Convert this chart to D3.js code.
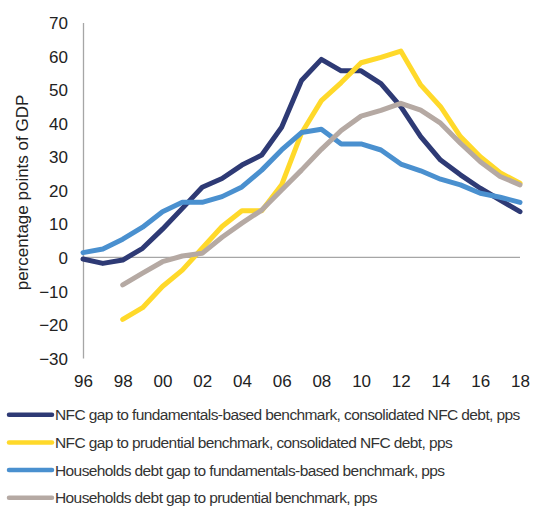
<!DOCTYPE html>
<html><head><meta charset="utf-8">
<script src="https://cdn.jsdelivr.net/npm/d3@7"></script>
<style>body{margin:0;background:#fff}svg{display:block}</style>
</head><body><svg id="c" width="544" height="509"></svg>
<script>
const years = d3.range(1996, 2019);
const xTickLabels = ["96","98","00","02","04","06","08","10","12","14","16","18"];
const yTicks = [-30,-20,-10,0,10,20,30,40,50,60,70];
const seriesNames = [
  "NFC gap to fundamentals-based benchmark, consolidated NFC debt, pps",
  "NFC gap to prudential benchmark, consolidated NFC debt, pps",
  "Households debt gap to fundamentals-based benchmark, pps",
  "Households debt gap to prudential benchmark, pps"
];
const seriesColors = ["#2E3A75","#FFD92A","#4A90CF","#B5A9A3"];
const nfcFund = [-0.5,-1.8,-0.8,2.7,8.4,14.6,20.9,23.5,27.5,30.5,38.8,52.7,59.0,55.6,55.6,51.8,44.9,36.0,29.0,24.6,20.6,17.1,13.6];
const nfcPrud = [null,null,-18.5,-15.0,-8.7,-3.8,2.7,9.2,13.9,13.9,21.6,37.0,46.7,52.1,58.0,59.6,61.5,51.4,44.9,36.0,30.0,25.2,22.1];
const hhFund = [1.4,2.5,5.4,9.0,13.6,16.4,16.4,18.1,21.0,26.0,32.0,37.2,38.2,33.8,33.8,32.0,27.8,25.8,23.3,21.6,19.1,17.9,16.4];
const hhPrud = [null,null,-8.2,-4.7,-1.3,0.4,1.2,6.0,10.2,14.1,20.1,26.0,32.2,37.8,42.1,43.8,45.9,43.9,40.0,34.0,28.5,24.1,21.6];
const allSeries = [nfcFund, nfcPrud, hhFund, hhPrud];

const svg = d3.select("#c");
const x = d3.scaleLinear().domain([1996, 2018]).range([83, 520]);
const y = d3.scaleLinear().domain([-30, 70]).range([358, 22.5]);
const font = "'Liberation Sans', Arial, sans-serif";

// zero line
svg.append("line").attr("x1", x(1996)).attr("x2", x(2018)).attr("y1", y(0)).attr("y2", y(0))
  .attr("stroke", "#a6a6a6").attr("stroke-width", 1.3);

// y axis
const yAxis = d3.axisLeft(y).tickValues(yTicks).tickSize(0).tickPadding(15).tickFormat(d3.format("d"));
const gy = svg.append("g").attr("transform", `translate(${x(1996)},0)`).call(yAxis);
gy.select(".domain").attr("stroke", "#a6a6a6").attr("stroke-width", 1.3);
gy.selectAll("text").attr("font-family", font).attr("font-size", 17).attr("fill", "#222")
  .attr("dy", "0.36em");

// x axis labels
const xTickYears = xTickLabels.map((l, i) => 1996 + 2 * i);
const xAxis = d3.axisBottom(x).tickValues(xTickYears).tickSize(0).tickPadding(0)
  .tickFormat((d, i) => xTickLabels[i]);
const gx = svg.append("g").attr("transform", `translate(0,${375})`).call(xAxis);
gx.select(".domain").remove();
gx.selectAll("text").attr("font-family", font).attr("font-size", 17).attr("fill", "#222").attr("dy", "0.71em");

// y title
svg.append("text").attr("transform", `translate(28,192.5) rotate(-90)`)
  .attr("text-anchor", "middle").attr("font-family", font).attr("font-size", 17).attr("fill", "#222")
  .text("percentage points of GDP");

// lines
const line = d3.line().defined(d => d[1] != null).x(d => x(d[0])).y(d => y(d[1]));
allSeries.forEach((s, i) => {
  svg.append("path").datum(years.map((yr, j) => [yr, s[j]]))
    .attr("d", line).attr("fill", "none").attr("stroke", seriesColors[i])
    .attr("stroke-width", 5).attr("stroke-linejoin", "round").attr("stroke-linecap", "round");
});

// legend
const leg = svg.append("g");
seriesNames.forEach((n, i) => {
  const cy = 414.7 + i * 27.7;
  leg.append("line").attr("x1", 9).attr("x2", 52).attr("y1", cy).attr("y2", cy)
    .attr("stroke", seriesColors[i]).attr("stroke-width", 4.5).attr("stroke-linecap", "round");
  leg.append("text").attr("x", 55).attr("y", cy + 5.5).attr("font-family", font)
    .attr("font-size", 15.5).attr("fill", "#333").attr("letter-spacing", -0.6).text(n);
});
</script></body></html>
